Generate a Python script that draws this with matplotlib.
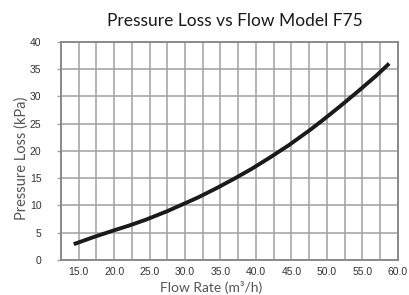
import matplotlib
matplotlib.use("Agg")
import matplotlib.pyplot as plt
import numpy as np

# Data
flow = [14.3, 17.1, 19.9, 22.2, 24.5, 27.4, 30.7, 31.9, 34.5, 36.8,
        39.4, 42.0, 44.6, 47.6, 49.5, 51.9, 54.4, 57.0, 58.8]
pressure = [2.9, 4.2, 5.4, 6.35, 7.4, 8.9, 10.8, 11.5, 13.2, 14.8,
            16.7, 18.8, 21.0, 23.8, 25.7, 28.2, 30.9, 33.8, 36.0]
x_ticks = [15, 20, 25, 30, 35, 40, 45, 50, 55, 60]
x_tick_labels = ["15.0", "20.0", "25.0", "30.0", "35.0", "40.0", "45.0", "50.0", "55.0", "60.0"]
y_ticks = [0, 5, 10, 15, 20, 25, 30, 35, 40]

W, H = 409, 295
fig = plt.figure(figsize=(W / 100, H / 100), dpi=100)
ax = fig.add_axes([61 / W, 1 - 260 / H, (397.7 - 61) / W, (260 - 41.7) / H])

ax.set_xlim(12.5, 60)
ax.set_ylim(0, 40)

# vertical grid every 2.5, horizontal every 5
ax.set_xticks(x_ticks)
ax.set_xticklabels(x_tick_labels)
ax.set_xticks(np.arange(12.5, 60.01, 2.5), minor=True)
ax.set_yticks(y_ticks)
grid_col = "#a0a0a0"
ax.grid(True, which="both", axis="x", color=grid_col, lw=1.1)
ax.grid(True, which="major", axis="y", color=grid_col, lw=1.1)
ax.set_axisbelow(True)

for s in ax.spines.values():
    s.set_color("#8a8a8a")
    s.set_linewidth(1.4)

ax.tick_params(axis="x", which="both", length=0, pad=5, labelsize=7.5, labelcolor="#333333")
ax.tick_params(axis="y", which="major", length=3, width=1.0, color=grid_col, pad=11,
               labelsize=7.5, labelcolor="#333333")
for lab in ax.get_xticklabels() + ax.get_yticklabels():
    lab.set_family("Liberation Sans")

ax.plot(flow, pressure, color="#1a1a1a", lw=2.8, solid_capstyle="butt", solid_joinstyle="round")

fig.text(235 / W, 1 - 21 / H, "Pressure Loss vs Flow Model F75", ha="center", va="center",
         fontsize=12.5, family="Lato", color="#1a1a1a")
fig.text(211 / W, 1 - 294 / H, "Flow Rate (m\u00b3/h)", ha="center", va="bottom",
         fontsize=10, family=["Lato", "DejaVu Sans"], color="#555555")
fig.text(22 / W, 1 - 158 / H, "Pressure Loss (kPa)", ha="center", va="center", rotation=90,
         fontsize=10.5, family="Lato", color="#555555")

fig.savefig("out.png", dpi=100)
